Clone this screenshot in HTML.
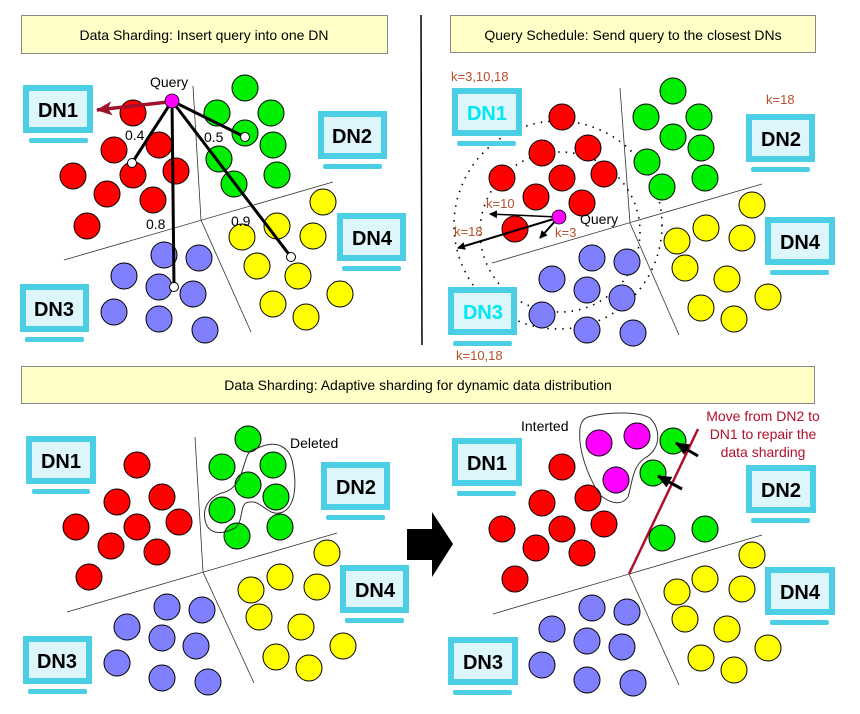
<!DOCTYPE html>
<html><head><meta charset="utf-8"><style>
html,body{margin:0;padding:0;background:#fff;}
svg{display:block;font-family:"Liberation Sans",sans-serif;}
.r circle{fill:#ff0000;stroke:#000;stroke-width:1}
.g circle{fill:#00ee00;stroke:#000;stroke-width:1}
.y circle{fill:#ffff00;stroke:#000;stroke-width:1}
.b circle{fill:#8080ff;stroke:#000;stroke-width:1}
.m circle{fill:#ff00ff;stroke:#000;stroke-width:1}
.mon{fill:#4ccfe5}
.scr{fill:#dcf6fb}
.dn{font-weight:bold;font-size:20px;text-anchor:middle}
.k{fill:#b5502a;font-size:13px}
</style></head><body>
<svg width="860" height="714" viewBox="0 0 860 714" xmlns="http://www.w3.org/2000/svg">
<defs>
<marker id="ab" markerWidth="8" markerHeight="8" refX="7" refY="4" orient="auto" markerUnits="userSpaceOnUse"><path d="M0,0 L8,4 L0,8 z" fill="#000"/></marker>
<marker id="ar" markerWidth="16" markerHeight="14" refX="15" refY="7" orient="auto" markerUnits="userSpaceOnUse"><path d="M0,0 L16,7 L0,14 L4,7 z" fill="#a0102a"/></marker>
<marker id="ak" markerWidth="14" markerHeight="12" refX="13" refY="6" orient="auto" markerUnits="userSpaceOnUse"><path d="M0,0 L14,6 L0,12 z" fill="#000"/></marker>
</defs>

<!-- ========== Panel 1 ========== -->
<rect x="21.5" y="15.5" width="366" height="38" fill="#ffffc8" stroke="#888" stroke-width="1"/>
<text x="204" y="40" font-size="14" text-anchor="middle">Data Sharding: Insert query into one DN</text>
<line x1="421" y1="15" x2="422" y2="345" stroke="#000" stroke-width="1.5"/>

<polyline points="193,86 201,220 251,332" fill="none" stroke="#333" stroke-width="0.8"/>
<line x1="64" y1="260" x2="333" y2="182" stroke="#333" stroke-width="0.8"/>

<g class="r"><circle cx="133" cy="113" r="13"/><circle cx="114" cy="150" r="13"/><circle cx="159" cy="145" r="13"/><circle cx="73" cy="176" r="13"/><circle cx="133" cy="175" r="13"/><circle cx="176" cy="171" r="13"/><circle cx="107" cy="194" r="13"/><circle cx="153" cy="200" r="13"/><circle cx="87" cy="226" r="13"/></g>
<g class="g"><circle cx="245" cy="88" r="13"/><circle cx="217" cy="113" r="13"/><circle cx="271" cy="113" r="13"/><circle cx="245" cy="133" r="13"/><circle cx="273" cy="145" r="13"/><circle cx="219" cy="159" r="13"/><circle cx="277" cy="175" r="13"/><circle cx="234" cy="184" r="13"/></g>
<g class="y"><circle cx="323" cy="202" r="13"/><circle cx="277" cy="226" r="13"/><circle cx="242" cy="237" r="13"/><circle cx="313" cy="236" r="13"/><circle cx="257" cy="266" r="13"/><circle cx="298" cy="276" r="13"/><circle cx="340" cy="294" r="13"/><circle cx="273" cy="304" r="13"/><circle cx="306" cy="317" r="13"/></g>
<g class="b"><circle cx="164" cy="255" r="13"/><circle cx="199" cy="258" r="13"/><circle cx="124" cy="276" r="13"/><circle cx="159" cy="287" r="13"/><circle cx="193" cy="294" r="13"/><circle cx="114" cy="312" r="13"/><circle cx="159" cy="319" r="13"/><circle cx="205" cy="330" r="13"/></g>

<g stroke="#000" stroke-width="3">
<line x1="172" y1="101" x2="132" y2="163"/><line x1="172" y1="101" x2="174" y2="287"/><line x1="172" y1="101" x2="245" y2="137"/><line x1="172" y1="101" x2="291" y2="257"/>
</g>
<g fill="#fff" stroke="#000"><circle cx="132" cy="163" r="4.5"/><circle cx="174" cy="287" r="4.5"/><circle cx="245" cy="137" r="4.5"/><circle cx="291" cy="257" r="4.5"/></g>
<line x1="168" y1="102" x2="97" y2="110" stroke="#a0102a" stroke-width="3.5" marker-end="url(#ar)"/>
<circle cx="172" cy="101" r="7" fill="#ff00ff" stroke="#000" stroke-width="0.8"/>
<g font-size="14"><text x="150" y="87">Query</text><text x="125" y="140">0.4</text><text x="204" y="142">0.5</text><text x="146" y="229">0.8</text><text x="231" y="226">0.9</text></g>

<rect class="mon" x="23" y="85" width="70" height="48"/><rect class="scr" x="29" y="91" width="58" height="36"/><rect class="mon" x="29" y="138" width="59" height="5" rx="2"/><text class="dn" x="58" y="117">DN1</text>
<rect class="mon" x="318" y="111" width="69" height="48"/><rect class="scr" x="324" y="117" width="57" height="36"/><rect class="mon" x="323" y="164" width="59" height="5" rx="2"/><text class="dn" x="352" y="143">DN2</text>
<rect class="mon" x="337" y="213" width="69" height="48"/><rect class="scr" x="343" y="219" width="57" height="36"/><rect class="mon" x="342" y="266" width="59" height="5" rx="2"/><text class="dn" x="372" y="245">DN4</text>
<rect class="mon" x="20" y="284" width="69" height="48"/><rect class="scr" x="26" y="290" width="57" height="36"/><rect class="mon" x="25" y="337" width="59" height="5" rx="2"/><text class="dn" x="54" y="316">DN3</text>

<!-- ========== Panel 2 ========== -->
<rect x="450.5" y="15.5" width="365" height="37" fill="#ffffc8" stroke="#888" stroke-width="1"/>
<text x="633" y="40" font-size="14" text-anchor="middle">Query Schedule: Send query to the closest DNs</text>

<polyline points="620,88 630,223 679,335" fill="none" stroke="#333" stroke-width="0.8"/>
<line x1="492" y1="263" x2="762" y2="184" stroke="#333" stroke-width="0.8"/>

<circle cx="558" cy="225" r="104" fill="none" stroke="#000" stroke-width="1.6" stroke-dasharray="1.5,6"/>
<circle cx="560" cy="232" r="80" fill="none" stroke="#000" stroke-width="1.6" stroke-dasharray="1.5,6"/>

<g class="r"><circle cx="562" cy="117" r="13"/><circle cx="542" cy="153" r="13"/><circle cx="588" cy="148" r="13"/><circle cx="502" cy="178" r="13"/><circle cx="562" cy="178" r="13"/><circle cx="604" cy="174" r="13"/><circle cx="536" cy="197" r="13"/><circle cx="582" cy="203" r="13"/><circle cx="515" cy="229" r="13"/></g>
<g class="g"><circle cx="673" cy="91" r="13"/><circle cx="646" cy="117" r="13"/><circle cx="699" cy="117" r="13"/><circle cx="673" cy="137" r="13"/><circle cx="701" cy="148" r="13"/><circle cx="647" cy="162" r="13"/><circle cx="705" cy="178" r="13"/><circle cx="662" cy="187" r="13"/></g>
<g class="y"><circle cx="752" cy="205" r="13"/><circle cx="706" cy="228" r="13"/><circle cx="677" cy="241" r="13"/><circle cx="742" cy="238" r="13"/><circle cx="685" cy="268" r="13"/><circle cx="727" cy="279" r="13"/><circle cx="768" cy="297" r="13"/><circle cx="701" cy="308" r="13"/><circle cx="734" cy="319" r="13"/></g>
<g class="b"><circle cx="592" cy="258" r="13"/><circle cx="627" cy="262" r="13"/><circle cx="552" cy="279" r="13"/><circle cx="587" cy="290" r="13"/><circle cx="622" cy="298" r="13"/><circle cx="542" cy="315" r="13"/><circle cx="587" cy="330" r="13"/><circle cx="633" cy="333" r="13"/></g>

<g stroke="#000" stroke-width="1.5">
<line x1="557" y1="217" x2="490" y2="214" marker-end="url(#ab)"/>
<line x1="557" y1="218" x2="458" y2="248" stroke-width="2" marker-end="url(#ab)"/>
<line x1="557" y1="219" x2="540" y2="238" stroke-width="2" marker-end="url(#ab)"/>
</g>
<circle cx="559" cy="217" r="7" fill="#ff00ff" stroke="#000" stroke-width="0.8"/>
<text x="580" y="224" font-size="14">Query</text>
<text class="k" x="486" y="208">k=10</text><text class="k" x="454" y="236">k=18</text><text class="k" x="555" y="237">k=3</text>
<text class="k" x="451" y="81">k=3,10,18</text><text class="k" x="766" y="104">k=18</text><text class="k" x="456" y="360">k=10,18</text>

<rect class="mon" x="452" y="88" width="70" height="48"/><rect class="scr" x="458" y="94" width="58" height="36"/><rect class="mon" x="457" y="141" width="59" height="5" rx="2"/><text class="dn" x="487" y="120" fill="#00e8f4">DN1</text>
<rect class="mon" x="746" y="114" width="69" height="48"/><rect class="scr" x="752" y="120" width="57" height="36"/><rect class="mon" x="751" y="167" width="59" height="5" rx="2"/><text class="dn" x="781" y="146">DN2</text>
<rect class="mon" x="765" y="217" width="70" height="48"/><rect class="scr" x="771" y="223" width="58" height="36"/><rect class="mon" x="770" y="270" width="59" height="5" rx="2"/><text class="dn" x="800" y="249">DN4</text>
<rect class="mon" x="448" y="287" width="69" height="48"/><rect class="scr" x="454" y="293" width="57" height="36"/><rect class="mon" x="453" y="341" width="59" height="5" rx="2"/><text class="dn" x="483" y="319" fill="#00e8f4">DN3</text>

<!-- ========== Bottom title ========== -->
<rect x="21.5" y="366.5" width="793" height="37" fill="#ffffc8" stroke="#888" stroke-width="1"/>
<text x="418" y="390" font-size="14" text-anchor="middle">Data Sharding: Adaptive sharding for dynamic data distribution</text>

<!-- ========== Panel 3 ========== -->
<polyline points="195,437 203,572 254,683" fill="none" stroke="#333" stroke-width="0.8"/>
<line x1="67" y1="612" x2="337" y2="533" stroke="#333" stroke-width="0.8"/>

<g class="r"><circle cx="137" cy="465" r="13"/><circle cx="117" cy="502" r="13"/><circle cx="162" cy="497" r="13"/><circle cx="76" cy="527" r="13"/><circle cx="137" cy="527" r="13"/><circle cx="179" cy="522" r="13"/><circle cx="111" cy="546" r="13"/><circle cx="157" cy="552" r="13"/><circle cx="89" cy="577" r="13"/></g>
<g class="g"><circle cx="248" cy="439" r="13"/><circle cx="222" cy="467" r="13"/><circle cx="273" cy="465" r="13"/><circle cx="248" cy="485" r="13"/><circle cx="276" cy="497" r="13"/><circle cx="222" cy="510" r="13"/><circle cx="237" cy="536" r="13"/><circle cx="280" cy="527" r="13"/></g>
<g class="y"><circle cx="327" cy="553" r="13"/><circle cx="280" cy="577" r="13"/><circle cx="251" cy="590" r="13"/><circle cx="317" cy="587" r="13"/><circle cx="259" cy="617" r="13"/><circle cx="301" cy="627" r="13"/><circle cx="343" cy="646" r="13"/><circle cx="276" cy="657" r="13"/><circle cx="309" cy="668" r="13"/></g>
<g class="b"><circle cx="167" cy="607" r="13"/><circle cx="202" cy="610" r="13"/><circle cx="127" cy="627" r="13"/><circle cx="162" cy="638" r="13"/><circle cx="196" cy="646" r="13"/><circle cx="117" cy="663" r="13"/><circle cx="162" cy="678" r="13"/><circle cx="208" cy="682" r="13"/></g>
<path d="M258,448 C275,440 290,445 293,465 C296,480 297,505 283,512 C268,518 262,500 250,502 C238,502 245,520 235,528 C222,535 208,535 205,520 C202,505 212,495 225,492 C238,488 242,472 245,462 C248,452 250,450 258,448 Z" fill="none" stroke="#333" stroke-width="1"/>
<text x="290" y="448" font-size="14">Deleted</text>

<rect class="mon" x="26" y="436" width="70" height="48"/><rect class="scr" x="32" y="442" width="58" height="36"/><rect class="mon" x="32" y="489" width="58" height="5" rx="2"/><text class="dn" x="61" y="468">DN1</text>
<rect class="mon" x="321" y="462" width="69" height="48"/><rect class="scr" x="327" y="468" width="57" height="36"/><rect class="mon" x="326" y="515" width="59" height="5" rx="2"/><text class="dn" x="356" y="494">DN2</text>
<rect class="mon" x="340" y="565" width="69" height="48"/><rect class="scr" x="346" y="571" width="57" height="36"/><rect class="mon" x="345" y="618" width="59" height="5" rx="2"/><text class="dn" x="375" y="597">DN4</text>
<rect class="mon" x="23" y="636" width="69" height="48"/><rect class="scr" x="29" y="642" width="57" height="36"/><rect class="mon" x="28" y="689" width="59" height="5" rx="2"/><text class="dn" x="57" y="668">DN3</text>

<!-- big arrow -->
<path d="M407,529 L432,529 L432,512 L453,544 L432,577 L432,560 L407,560 Z" fill="#000"/>

<!-- ========== Panel 4 ========== -->
<line x1="629" y1="574" x2="679" y2="685" stroke="#333" stroke-width="0.8"/>
<line x1="493" y1="614" x2="762" y2="535" stroke="#333" stroke-width="0.8"/>
<line x1="629" y1="574" x2="698" y2="429" stroke="#b0102a" stroke-width="2.5"/>

<g class="r"><circle cx="562" cy="467" r="13"/><circle cx="542" cy="503" r="13"/><circle cx="588" cy="498" r="13"/><circle cx="502" cy="529" r="13"/><circle cx="562" cy="529" r="13"/><circle cx="604" cy="524" r="13"/><circle cx="536" cy="548" r="13"/><circle cx="582" cy="553" r="13"/><circle cx="515" cy="579" r="13"/></g>
<g class="m"><circle cx="599" cy="443" r="13"/><circle cx="637" cy="436" r="13"/><circle cx="616" cy="480" r="13"/></g>
<g class="g"><circle cx="673" cy="441" r="13"/><circle cx="653" cy="473" r="13"/><circle cx="662" cy="538" r="13"/><circle cx="705" cy="529" r="13"/></g>
<g class="y"><circle cx="752" cy="555" r="13"/><circle cx="705" cy="579" r="13"/><circle cx="677" cy="592" r="13"/><circle cx="742" cy="589" r="13"/><circle cx="685" cy="619" r="13"/><circle cx="727" cy="629" r="13"/><circle cx="768" cy="648" r="13"/><circle cx="701" cy="658" r="13"/><circle cx="734" cy="670" r="13"/></g>
<g class="b"><circle cx="592" cy="608" r="13"/><circle cx="627" cy="612" r="13"/><circle cx="552" cy="629" r="13"/><circle cx="587" cy="641" r="13"/><circle cx="622" cy="647" r="13"/><circle cx="542" cy="665" r="13"/><circle cx="587" cy="680" r="13"/><circle cx="633" cy="683" r="13"/></g>
<path d="M588,417 C610,411 640,412 650,418 C662,430 660,450 645,458 C632,466 632,485 628,497 C622,505 612,505 600,495 C590,480 582,460 580,442 C579,428 580,420 588,417 Z" fill="none" stroke="#333" stroke-width="1"/>
<text x="521" y="431" font-size="14">Interted</text>
<g stroke="#000" stroke-width="3"><line x1="698" y1="456" x2="676" y2="443" marker-end="url(#ak)"/><line x1="682" y1="489" x2="658" y2="476" marker-end="url(#ak)"/></g>
<g font-size="14" fill="#b0102a" text-anchor="middle"><text x="763" y="421">Move from DN2 to</text><text x="763" y="439">DN1 to repair the</text><text x="763" y="457">data sharding</text></g>

<rect class="mon" x="452" y="438" width="70" height="48"/><rect class="scr" x="458" y="444" width="58" height="36"/><rect class="mon" x="457" y="491" width="59" height="5" rx="2"/><text class="dn" x="487" y="470">DN1</text>
<rect class="mon" x="746" y="465" width="70" height="48"/><rect class="scr" x="752" y="471" width="58" height="36"/><rect class="mon" x="751" y="518" width="59" height="5" rx="2"/><text class="dn" x="781" y="497">DN2</text>
<rect class="mon" x="765" y="567" width="70" height="48"/><rect class="scr" x="771" y="573" width="58" height="36"/><rect class="mon" x="770" y="620" width="59" height="5" rx="2"/><text class="dn" x="800" y="599">DN4</text>
<rect class="mon" x="448" y="637" width="70" height="48"/><rect class="scr" x="454" y="643" width="58" height="36"/><rect class="mon" x="453" y="690" width="59" height="5" rx="2"/><text class="dn" x="483" y="669">DN3</text>
</svg>
</body></html>
